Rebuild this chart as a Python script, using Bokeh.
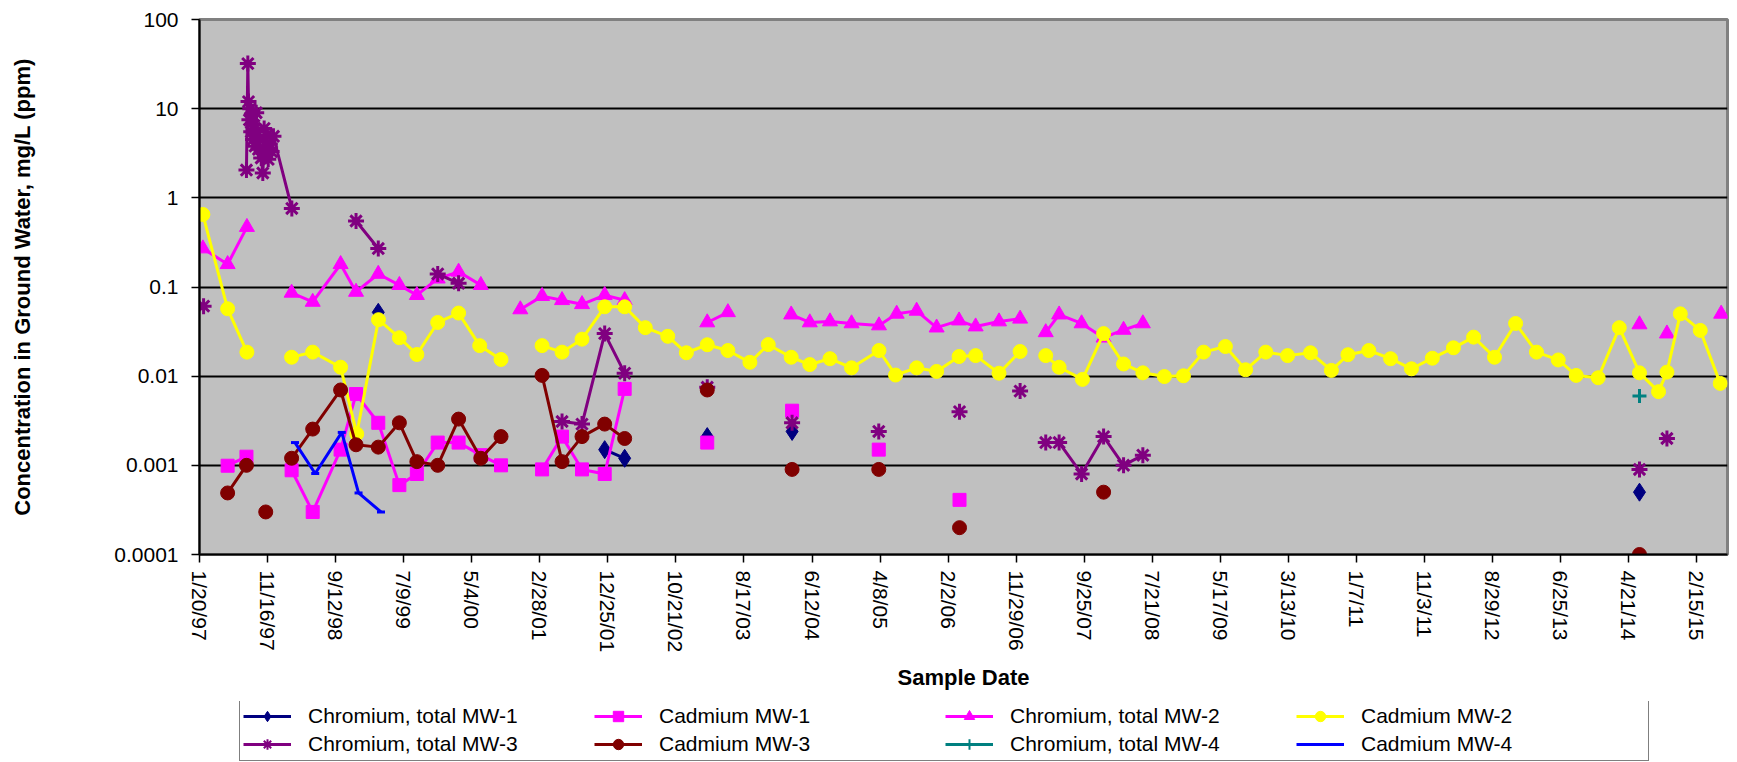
import numpy as np
from bokeh.plotting import figure
from bokeh.layouts import column
from bokeh.models import Range1d, FixedTicker, Legend, LegendItem
from bokeh.embed import file_html
from bokeh.resources import INLINE

# x positions are days after 1/20/97 (first axis tick); None marks a gap in a series
X_TICKS = [0, 300, 600, 900, 1200, 1500, 1800, 2100, 2400, 2700, 3000, 3300,
           3600, 3900, 4200, 4500, 4800, 5100, 5400, 5700, 6000, 6300, 6600]
X_TICK_LABELS = ["1/20/97", "11/16/97", "9/12/98", "7/9/99", "5/4/00", "2/28/01",
                 "12/25/01", "10/21/02", "8/17/03", "6/12/04", "4/8/05", "2/2/06",
                 "11/29/06", "9/25/07", "7/21/08", "5/17/09", "3/13/10", "1/7/11",
                 "11/3/11", "8/29/12", "6/25/13", "4/21/14", "2/15/15"]
Y_TICKS = [0.0001, 0.001, 0.01, 0.1, 1, 10, 100]
Y_TICK_LABELS = ["0.0001", "0.001", "0.01", "0.1", "1", "10", "100"]

CR_MW1_DAY = [788, None, 1786, 1874, None, 2238, None, 2612, None, 6347]
CR_MW1_VAL = [0.052, None, 0.0015, 0.0012, None, 0.0021, None, 0.0024, None, 0.0005]

CD_MW1_DAY = [124, 207, None, 406, 499, 622, 690, 788, 881, 958, 1050, 1142, 1240, 1329,
              None, 1510, 1598, 1686, 1786, 1874, None, 2238, None, 2612, None, 2994,
              None, 3350]
CD_MW1_VAL = [0.00099, 0.00125, None, 0.00088, 0.0003, 0.0015, 0.0063, 0.003, 0.0006,
              0.0008, 0.0018, 0.0018, 0.0013, 0.001, None, 0.0009, 0.0021, 0.0009,
              0.0008, 0.0072, None, 0.0018, None, 0.0041, None, 0.0015, None, 0.00041]

CR_MW2_DAY = [15, 124, 209, None, 406, 499, 622, 690, 788, 881, 958, 1050, 1142, 1240,
              None, 1414, 1510, 1598, 1686, 1786, 1874, None, 2238, 2329, None, 2608,
              2690, 2779, 2874, 2995, 3073, 3161, 3249, 3348, 3421, 3524, 3617, None,
              3730, 3789, 3888, 3985, 4073, 4158, None, 6347, None, 6468, None, 6707]
CR_MW2_VAL = [0.27, 0.18, 0.47, None, 0.086, 0.068, 0.18, 0.088, 0.14, 0.105, 0.081,
              0.124, 0.148, 0.105, None, 0.056, 0.079, 0.071, 0.064, 0.081, 0.071, None,
              0.040, 0.052, None, 0.049, 0.040, 0.041, 0.039, 0.037, 0.050, 0.054, 0.035,
              0.042, 0.036, 0.041, 0.044, None, 0.031, 0.049, 0.039, 0.027, 0.033, 0.039,
              None, 0.038, None, 0.030, None, 0.050]

CD_MW2_DAY = [15, 124, 209, None, 406, 499, 622, 693, 789, 881, 958, 1050, 1142, 1235,
              1329, None, 1510, 1598, 1686, 1786, 1874, 1965, 2064, 2146, 2238, 2329,
              2426, 2507, 2608, 2690, 2779, 2874, 2995, 3068, 3161, 3249, 3348, 3421,
              3524, 3617, None, 3730, 3789, 3892, 3985, 4073, 4158, 4253, 4337, 4426,
              4522, 4611, 4700, 4796, 4897, 4989, 5062, 5154, 5250, 5342, 5434, 5527,
              5616, 5708, 5801, 5893, 5989, 6068, 6165, 6258, 6347, 6431, 6468, 6527,
              6615, 6703]
CD_MW2_VAL = [0.65, 0.057, 0.0186, None, 0.0163, 0.0186, 0.0126, 0.00225, 0.043, 0.027,
              0.0175, 0.040, 0.051, 0.022, 0.0154, None, 0.022, 0.0186, 0.026, 0.060,
              0.060, 0.035, 0.028, 0.0183, 0.0225, 0.0194, 0.0143, 0.0226, 0.0163,
              0.0135, 0.0157, 0.0124, 0.0194, 0.0103, 0.0124, 0.0113, 0.0166, 0.017,
              0.0108, 0.0189, None, 0.017, 0.0126, 0.0092, 0.030, 0.0137, 0.0109, 0.0099,
              0.0101, 0.0186, 0.0215, 0.0118, 0.0186, 0.017, 0.0183, 0.0116, 0.0174,
              0.0194, 0.0157, 0.0121, 0.0159, 0.0208, 0.0274, 0.0163, 0.039, 0.0186,
              0.0152, 0.0102, 0.0096, 0.035, 0.0109, 0.0067, 0.0111, 0.050, 0.0326,
              0.0083]

CR_MW3_DAY = [18, None, 207, 213, 216, 220, 224, 228, 232, 236, 240, 245, 250, 255, 260,
              266, 272, 279, 285, 291, 297, 303, 310, 318, 326, 407, None, 690, 788, None,
              1050, 1142, None, 1598, 1686, 1786, 1874, None, 2238, None, 2612, None,
              2994, None, 3350, None, 3617, None, 3730, 3789, 3888, 3985, 4073, 4158,
              None, 6347, None, 6468]
CR_MW3_VAL = [0.061, None, 2.05, 32, 12, 7.5, 10, 5.5, 8.5, 4.5, 6.5, 3.8, 9, 5.5, 3.5,
              4.5, 2.8, 1.9, 6, 3.2, 5, 2.7, 4, 3.3, 4.9, 0.76, None, 0.55, 0.27, None,
              0.14, 0.11, None, 0.0031, 0.0029, 0.030, 0.0108, None, 0.0075, None, 0.003,
              None, 0.0024, None, 0.004, None, 0.0068, None, 0.0018, 0.0018, 0.0008,
              0.0021, 0.001, 0.0013, None, 0.0009, None, 0.002]

CD_MW3_DAY = [124, 207, None, 292, None, 406, 499, 622, 690, 788, 881, 958, 1050, 1142,
              1240, 1329, None, 1510, 1598, 1686, 1786, 1874, None, 2238, None, 2612,
              None, 2994, None, 3350, None, 3985, None, 6347]
CD_MW3_VAL = [0.00049, 0.001, None, 0.0003, None, 0.0012, 0.00255, 0.007, 0.0017, 0.0016,
              0.003, 0.0011, 0.001, 0.0033, 0.0012, 0.0021, None, 0.0102, 0.0011, 0.0021,
              0.0029, 0.002, None, 0.007, None, 0.0009, None, 0.0009, None, 0.0002, None,
              0.0005, None, 0.0001]

CR_MW4_DAY = [6347]
CR_MW4_VAL = [0.006]

CD_MW4_DAY = [421, 510, 627, 701, 800]
CD_MW4_VAL = [0.0018, 0.00081, 0.00234, 0.00049, 0.0003]

SERIES = [
    ("Chromium, total MW-1", CR_MW1_DAY, CR_MW1_VAL, "#000080", "diamond", 18),
    ("Cadmium MW-1", CD_MW1_DAY, CD_MW1_VAL, "#FF00FF", "square", 13),
    ("Chromium, total MW-2", CR_MW2_DAY, CR_MW2_VAL, "#FF00FF", "triangle", 15),
    ("Cadmium MW-2", CD_MW2_DAY, CD_MW2_VAL, "#FFFF00", "circle", 14),
    ("Chromium, total MW-3", CR_MW3_DAY, CR_MW3_VAL, "#800080", "asterisk", 16),
    ("Cadmium MW-3", CD_MW3_DAY, CD_MW3_VAL, "#800000", "circle", 14),
    ("Chromium, total MW-4", CR_MW4_DAY, CR_MW4_VAL, "#008080", "cross", 14),
    ("Cadmium MW-4", CD_MW4_DAY, CD_MW4_VAL, "#0000FF", "dash", 8),
]

FONT = "Liberation Sans"


def arr(v):
    return np.array([np.nan if a is None else a for a in v], dtype=float)


p = figure(width=1737, height=701, y_axis_type="log",
           x_range=Range1d(0, 6735), y_range=Range1d(0.0001, 100),
           output_backend="svg", toolbar_location=None,
           min_border_left=199, min_border_right=10, min_border_top=19,
           min_border_bottom=147,
           background_fill_color="#C0C0C0", border_fill_color="white",
           outline_line_color="#808080", outline_line_width=3)

# axes
p.xaxis.ticker = FixedTicker(ticks=X_TICKS)
p.xaxis.major_label_overrides = {t: l for t, l in zip(X_TICKS, X_TICK_LABELS)}
p.xaxis.major_label_orientation = "vertical"
p.yaxis.ticker = FixedTicker(ticks=Y_TICKS)
p.yaxis.major_label_overrides = {t: l for t, l in zip(Y_TICKS, Y_TICK_LABELS)}

for ax in (p.xaxis[0], p.yaxis[0]):
    ax.axis_line_color = "black"
    ax.axis_line_width = 2
    ax.major_tick_line_color = "black"
    ax.major_tick_line_width = 1.5
    ax.major_tick_out = 8
    ax.major_tick_in = 0
    ax.minor_tick_line_color = None
    ax.major_label_text_font = FONT
    ax.major_label_text_font_size = "21px"
    ax.major_label_text_color = "black"
    ax.axis_label_text_font = FONT
    ax.axis_label_text_font_size = "22px"
    ax.axis_label_text_font_style = "bold"
    ax.axis_label_text_color = "black"

p.xaxis.axis_label = "Sample Date"
p.xaxis.major_label_standoff = 8
p.xaxis.axis_label_standoff = 10
p.yaxis.axis_label = "Concentration in Ground Water, mg/L (ppm)"
p.yaxis.major_label_standoff = 13
p.yaxis.axis_label_standoff = 76

p.xgrid.visible = False
p.ygrid.ticker = FixedTicker(ticks=Y_TICKS)
p.ygrid.grid_line_color = "black"
p.ygrid.grid_line_width = 2

# legend strip (separate figure; its frame is aligned with the chart's frame)
pl = figure(width=1737, height=61, x_range=Range1d(0, 1), y_range=Range1d(0, 1),
            output_backend="svg", toolbar_location=None,
            x_axis_location=None, y_axis_location=None,
            min_border=0, outline_line_color=None,
            background_fill_color="white", border_fill_color="white")
pl.grid.visible = False

items = []
for label, days, vals, color, marker, size in SERIES:
    x = arr(days)
    y = arr(vals)
    fill = color if marker not in ("asterisk", "cross", "dash") else None
    lw = 3 if fill is None else 1
    p.line(x, y, line_color=color, line_width=3)
    p.scatter(x, y, marker=marker, size=size, fill_color=fill,
              line_color=color, line_width=lw)
    # off-range proxy renderers: only used to draw the legend swatches
    lr = pl.line([-10, -9], [-10, -9], line_color=color, line_width=3)
    sr = pl.scatter([-10], [-10], marker=marker, size=size, fill_color=fill,
                    line_color=color, line_width=2 if fill is None else 1)
    items.append(LegendItem(label=label, renderers=[lr, sr]))

legend = Legend(items=items, location=(40, 1), orientation="horizontal", ncols=4,
                label_text_font=FONT, label_text_font_size="21px",
                label_text_color="black",
                glyph_width=48, glyph_height=26, label_standoff=17, label_width=284,
                spacing=2, padding=3, margin=0,
                border_line_color="black", border_line_width=1.5,
                background_fill_color="white", background_fill_alpha=1.0)
pl.add_layout(legend)

open("out.html", "w").write(file_html(column(p, pl), INLINE))
